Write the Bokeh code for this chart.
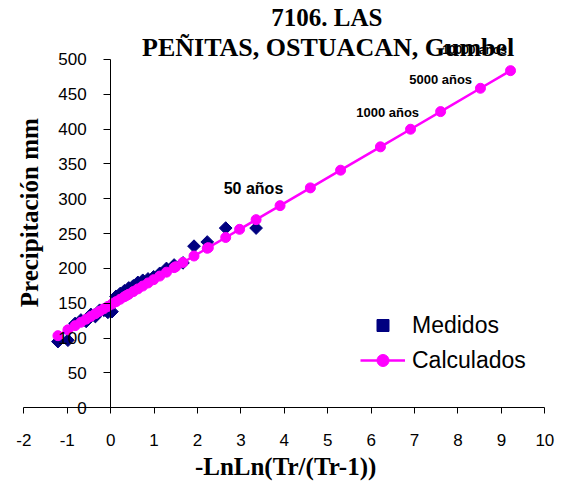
import numpy as np
from bokeh.plotting import figure
from bokeh.models import FixedTicker, Label, Legend, LegendItem, NumeralTickFormatter
from bokeh.embed import file_html
from bokeh.resources import INLINE

# ---------------- data ----------------
title_line1 = "7106. LAS"
title_line2 = "PEÑITAS, OSTUACAN, Gumbel"
x_title = "-LnLn(Tr/(Tr-1))"
y_title = "Precipitación mm"

x_ticks = [-2, -1, 0, 1, 2, 3, 4, 5, 6, 7, 8, 9, 10]
y_ticks = [0, 50, 100, 150, 200, 250, 300, 350, 400, 450, 500]

# measured (Medidos): reduced variate and precipitation
medidos_x = [3.350, 2.650, 2.225, 1.920, 1.665, 1.462, 1.286, 1.131, 0.990, 0.861,
             0.740, 0.627, 0.520, 0.417, 0.317, 0.220, 0.125, 0.031, -0.063, -0.157,
             -0.253, -0.352, -0.455, -0.564, -0.684, -0.819, -0.984, -1.214]
medidos_y = [258, 258, 238, 232, 208, 205, 200, 193, 188, 185,
             183, 180, 175, 172, 168, 164, 160, 138, 137, 140,
             140, 131, 134, 124, 126, 121, 97, 95]

# calculated (Calculados) at design return periods
calc_tr_x = [9.210, 8.517, 7.600, 6.907, 6.214, 5.296, 4.600, 3.902, 2.970, 2.250, 1.500, 0.367]
calc_tr_y = [484.0, 458.7, 425.2, 399.9, 374.6, 341.1, 315.7, 290.2, 256.2, 229.9, 202.6, 161.2]
# calculated at the measured positions
calc_obs_x = medidos_x
calc_obs_y = [270.1, 244.5, 229.0, 217.9, 208.6, 201.2, 194.7, 189.1, 183.9, 179.2,
              174.8, 170.7, 166.8, 163.0, 159.4, 155.8, 152.4, 148.9, 145.5, 142.1,
              138.6, 135.0, 131.2, 127.2, 122.8, 117.9, 111.9, 103.5]

ann_texts = ["50 años", "1000 años", "5000 años", "10000 años"]

# ---------------- layout constants ----------------
ann_pos = [(3.29, 315), (6.38, 424), (7.60, 471), (8.38, 513)]
ann_sizes = ["16px", "13px", "13px", "12px"]

pairs = sorted(zip(calc_tr_x + calc_obs_x, calc_tr_y + calc_obs_y), reverse=True)
calc_x = [a for a, b in pairs]
calc_y = [b for a, b in pairs]

W, H = 563, 486
p = figure(x_range=(-2.5367, 10.430), y_range=(-113.0, 584.7),
           frame_width=W, frame_height=H,
           min_border_left=0, min_border_right=0,
           min_border_top=0, min_border_bottom=0,
           output_backend="svg", toolbar_location=None)
p.outline_line_color = None
p.xgrid.visible = False
p.ygrid.visible = False
p.background_fill_color = "white"
p.border_fill_color = "white"

for ax in (p.xaxis, p.yaxis):
    ax.fixed_location = 0
    ax.axis_line_color = "black"
    ax.axis_line_width = 1
    ax.major_tick_line_color = "black"
    ax.major_tick_in = 0
    ax.minor_tick_out = 0
    ax.minor_tick_in = 0
    ax.major_label_text_font = "Liberation Sans"
    ax.major_label_text_font_size = "17px"
    ax.major_label_text_color = "black"
    ax.formatter = NumeralTickFormatter(format="0")

p.xaxis.bounds = (-2, 10)
p.yaxis.bounds = (0, 500)
p.xaxis.ticker = FixedTicker(ticks=x_ticks, minor_ticks=[])
p.yaxis.ticker = FixedTicker(ticks=y_ticks, minor_ticks=[])
p.xaxis.major_tick_out = 6
p.yaxis.major_tick_out = 7
p.xaxis.major_label_standoff = 20
p.yaxis.major_label_standoff = 17

r_med = p.scatter(medidos_x, medidos_y, marker="square", angle=np.pi / 4,
                  size=9, fill_color="#000080", line_color="#000080")
r_line = p.line(calc_x, calc_y, line_color="#FF00FF", line_width=2.5)
r_circ = p.scatter(calc_x, calc_y, marker="circle", size=10,
                   fill_color="#FF00FF", line_color="#FF00FF")

legend = Legend(items=[LegendItem(label="Medidos", renderers=[r_med]),
                       LegendItem(label="Calculados", renderers=[r_line, r_circ])],
                location=(360, 111), glyph_width=45, glyph_height=30,
                label_standoff=7, spacing=5, padding=0, margin=0,
                border_line_alpha=0, background_fill_alpha=0,
                label_text_font="Liberation Sans", label_text_font_size="23px",
                label_text_color="black")
p.add_layout(legend)

for t, (ax_, ay_), fs in zip(ann_texts, ann_pos, ann_sizes):
    p.add_layout(Label(x=ax_, y=ay_, text=t, text_align="center", text_baseline="middle",
                       text_font="Liberation Sans", text_font_style="bold",
                       text_font_size=fs, text_color="black"))

serif = "Liberation Serif"
p.add_layout(Label(x=4.98, y=560, text=title_line1, text_align="center", text_baseline="middle",
                   text_font=serif, text_font_style="bold", text_font_size="25px", text_color="black"))
p.add_layout(Label(x=5.01, y=517, text=title_line2, text_align="center", text_baseline="middle",
                   text_font=serif, text_font_style="bold", text_font_size="26px", text_color="black"))
p.add_layout(Label(x=4.03, y=-84, text=x_title, text_align="center", text_baseline="middle",
                   text_font=serif, text_font_style="bold", text_font_size="25px", text_color="black"))
p.add_layout(Label(x=-1.87, y=280, text=y_title, text_align="center", text_baseline="middle",
                   angle=np.pi / 2, text_font=serif, text_font_style="bold",
                   text_font_size="25px", text_color="black"))

open("out.html", "w").write(file_html(p, INLINE))
